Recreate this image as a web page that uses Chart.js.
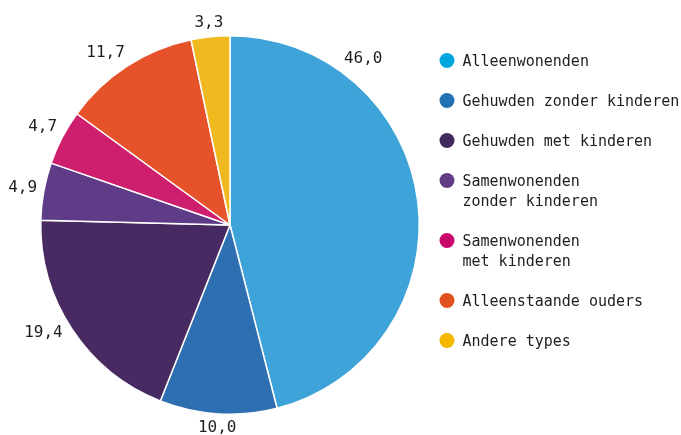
<!DOCTYPE html>
<html>
<head>
<meta charset="utf-8">
<script src="https://cdn.jsdelivr.net/npm/chart.js@4"></script>
<style>
  html, body { margin: 0; padding: 0; background: #ffffff; }
  #wrap { width: 681px; height: 435px; position: relative; }
</style>
</head>
<body>
<div id="wrap"><canvas id="c" width="681" height="435"></canvas></div>
<script>
const categories = [
  "Alleenwonenden",
  "Gehuwden zonder kinderen",
  "Gehuwden met kinderen",
  "Samenwonenden\nzonder kinderen",
  "Samenwonenden\nmet kinderen",
  "Alleenstaande ouders",
  "Andere types"
];
const values = [46.0, 10.0, 19.4, 4.9, 4.7, 11.7, 3.3];
const sliceColors = ["#3ea3d8", "#2d6fb0", "#472a61", "#5f3c88", "#cd1f6e", "#e6532b", "#f0b920"];
const legendColors = ["#00a6de", "#2271b3", "#432a5c", "#613c85", "#c8066b", "#e1501f", "#f4b800"];
const labelAnglePos = [0.234, 0.5, 0.55, 0.5, 0.5, 0.43, 0.5];

const FONT = '15px "DejaVu Sans Mono", "Liberation Mono", monospace';
const VFONT = '16px "DejaVu Sans Mono", "Liberation Mono", monospace';
const TEXT = '#1e1e1e';

const fmt = v => v.toFixed(1).replace('.', ',');

const labelsPlugin = {
  id: 'sliceLabels',
  afterDatasetsDraw(chart) {
    const ctx = chart.ctx;
    const meta = chart.getDatasetMeta(0);
    ctx.save();
    ctx.font = VFONT;
    ctx.fillStyle = TEXT;
    ctx.textAlign = 'center';
    ctx.textBaseline = 'middle';
    meta.data.forEach((arc, i) => {
      const p = arc.getProps(['x', 'y', 'startAngle', 'endAngle', 'outerRadius'], true);
      const a = p.startAngle + labelAnglePos[i] * (p.endAngle - p.startAngle);
      const txt = fmt(values[i]);
      const hw = ctx.measureText(txt).width / 2;
      const hh = 7;
      const d = p.outerRadius + 6 + Math.abs(Math.cos(a)) * hw + Math.abs(Math.sin(a)) * hh;
      ctx.fillText(txt, p.x + Math.cos(a) * d, p.y + Math.sin(a) * d);
    });
    ctx.restore();
  }
};

const legendPlugin = {
  id: 'sideLegend',
  afterDraw(chart) {
    const ctx = chart.ctx;
    ctx.save();
    ctx.font = FONT;
    ctx.textAlign = 'left';
    ctx.textBaseline = 'middle';
    let y = 60.5;
    categories.forEach((cat, i) => {
      const lines = cat.split('\n');
      ctx.fillStyle = legendColors[i];
      ctx.beginPath();
      ctx.arc(447, y, 7.5, 0, Math.PI * 2);
      ctx.fill();
      ctx.fillStyle = TEXT;
      lines.forEach((ln, j) => ctx.fillText(ln, 462.5, y + 1.5 + j * 20.5));
      y += 40 + 20 * (lines.length - 1);
    });
    ctx.restore();
  }
};

new Chart(document.getElementById('c'), {
  type: 'pie',
  data: {
    labels: categories,
    datasets: [{
      data: values,
      backgroundColor: sliceColors,
      borderColor: '#ffffff',
      borderWidth: 1.5
    }]
  },
  options: {
    responsive: false,
    animation: false,
    layout: { padding: { left: 40, right: 261, top: 35, bottom: 20 } },
    plugins: {
      legend: { display: false },
      tooltip: { enabled: false }
    }
  },
  plugins: [labelsPlugin, legendPlugin]
});
</script>
</body>
</html>
